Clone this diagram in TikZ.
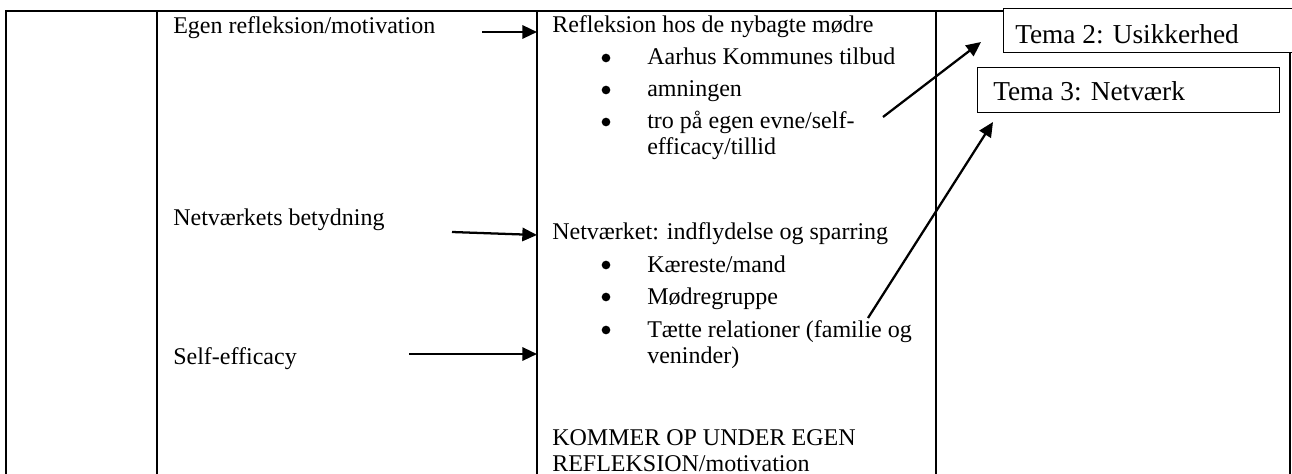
\documentclass[tikz,border=0pt]{standalone}
\usepackage{fontspec}
\setmainfont{Liberation Serif}
\usetikzlibrary{arrows.meta}
\begin{document}
\begin{tikzpicture}[x=0.75pt,y=-0.75pt,
  txt/.style={anchor=base west,inner sep=0pt,font=\fontsize{18}{21}\selectfont},
  ttxt/.style={anchor=base west,inner sep=0pt,font=\fontsize{20.5}{24}\selectfont},
  grid/.style={line width=1.5pt},
  tema/.style={draw,line width=0.75pt,fill=white},
  conn/.style={line width=1.7pt,-{Triangle[length=11pt,width=10pt]}},
  dot/.style={circle,fill=black,inner sep=0pt,minimum size=6.5pt}]
\useasboundingbox (0,0) rectangle (1292,474);
\clip (0,0) rectangle (1292,474);
% table
\draw[grid] (6,490) -- (6,11) -- (1300,11);
\draw[grid] (157,11) -- (157,490);
\draw[grid] (537,11) -- (537,490);
\draw[grid] (936,11) -- (936,490);
\draw[grid] (1290,11) -- (1290,490);
% column 2
\node[txt] (egen) at (173,34) {Egen refleksion/motivation};
\node[txt] (netb) at (173,225) {Netværkets betydning};
\node[txt] (self) at (173,364) {Self-efficacy};
% column 3
\node[txt] (refl) at (552,33) {Refleksion hos de nybagte mødre};
\node[dot] (b1) at (606,58) {};
\node[txt] (aarhus) at (647,65) {Aarhus Kommunes tilbud};
\node[dot] (b2) at (606,90) {};
\node[txt] (amn) at (647,97) {amningen};
\node[dot] (b3) at (606,122) {};
\node[txt] (tro) at (647,129) {tro på egen evne/self-};
\node[txt] (eff) at (647,155) {efficacy/tillid};
\node[txt] (netv) at (552,239) {Netværket: indflydelse og sparring};
\node[dot] (b4) at (606,265) {};
\node[txt] (kaer) at (647,272) {Kæreste/mand};
\node[dot] (b5) at (606,297) {};
\node[txt] (modr) at (647,304) {Mødregruppe};
\node[dot] (b6) at (606,330) {};
\node[txt] (taet) at (647,337) {Tætte relationer (familie og};
\node[txt] (ven) at (647,363) {veninder)};
\node[txt] (komm) at (552,445) {KOMMER OP UNDER EGEN};
\node[txt] (refl2) at (552,471) {REFLEKSION/motivation};
% tema boxes
\draw[tema] (1003,9) rectangle (1300,53);
\node[ttxt] (tema2) at (1015,44) {Tema 2: Usikkerhed};
\draw[tema] (977,68) rectangle (1279,113);
\node[ttxt] (tema3) at (993,101) {Tema 3: Netværk};
% connector end points
\coordinate (a1) at (482,32);  \coordinate (a1e) at (537,32);
\coordinate (a2) at (452,232); \coordinate (a2e) at (537,235);
\coordinate (a3) at (409,354); \coordinate (a3e) at (537,354);
\coordinate (t2s) at (883,117); \coordinate (t2e) at (981,42);
\coordinate (t3s) at (868,318); \coordinate (t3e) at (993,122);
\draw[conn] (a1) -- (a1e);
\draw[conn] (a2) -- (a2e);
\draw[conn] (a3) -- (a3e);
\draw[conn] (t2s) -- (t2e);
\draw[conn] (t3s) -- (t3e);
\end{tikzpicture}
\end{document}
